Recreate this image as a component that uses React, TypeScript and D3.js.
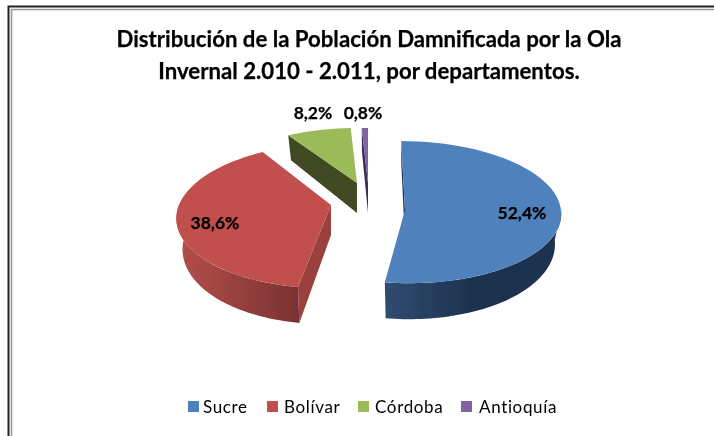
import React from "react";
import * as d3 from "d3";

const titleLines = ["Distribución de la Población Damnificada por la Ola", "Invernal 2.010 - 2.011, por departamentos."];
const categories = ["Sucre", "Bolívar", "Córdoba", "Antioquía"];
const values = [52.4, 38.6, 8.2, 0.8];
const labels = ["52,4%", "38,6%", "8,2%", "0,8%"];
const colors = ["#4f81bd", "#c0504d", "#9bbb59", "#8064a2"];
const wallFrom = ["#2f4c70", "#b44f4b", "#3f4a20", "#3c2f52"];
const wallTo = ["#1e3350", "#7a3130", "#3f4a20", "#3c2f52"];

// slice placement in the exploded pie: apex position and projection per slice
const apexes: [number, number][] = [[405, 210], [331, 205], [357, 183], [368, 183]];
const radiiX = [156, 152, 150, 150];
const radiiY = [71, 70.6, 66, 66];
const persp = [0.03, 0.15, 0.2, 0.2];
const shear = [0.055, -0.075, 0, 0];
const labelPos: [number, number][] = [[522, 219], [215, 229], [313, 119], [363, 119]];
const legendSwatchX = [188, 267, 358, 461];
const legendTextX = [203, 284, 375, 479];

export default function App() {
  const arcs = d3.pie<number>().sort(null)(values);
  const tick = Math.PI / 180;
  const project = (i: number, a: number, rho: number, down = 0): [number, number] => {
    const w = 1 + persp[i] * rho * Math.cos(a);
    const h = 30 * (1 - 0.2 * rho * Math.cos(a));
    const dy = -(radiiY[i] * rho * Math.cos(a)) / w;
    const dx = (radiiX[i] * rho * Math.sin(a)) / w + shear[i] * dy;
    return [
      apexes[i][0] + dx * (1 - 0.04 * down),
      apexes[i][1] + dy + down * h,
    ];
  };
  const line = d3.line();
  const arcPts = (i: number, a0: number, a1: number, down = 0) =>
    d3.range(0, 61).map((k) => project(i, a0 + ((a1 - a0) * k) / 60, 1, down));

  const order = [2, 3, 1, 0];
  return (
    <svg width={714} height={436} style={{ position: "absolute", left: 0, top: 0 }}>
      <defs>
        <filter id="soft"><feGaussianBlur stdDeviation="0.5" /></filter>
        {arcs.map((_, i) => (
          <linearGradient key={i} id={`wall${i}`} gradientUnits="userSpaceOnUse"
            x1={i === 0 ? 386 : 176} x2={i === 0 ? 470 : 300} y1={0} y2={0}>
            <stop offset="0" stopColor={wallFrom[i]} />
            <stop offset="1" stopColor={wallTo[i]} />
          </linearGradient>
        ))}
      </defs>
      <rect width={714} height={436} fill="#fff" />
      <g fill="none">
        <path d="M8.5 436V6.5H714" stroke="#222" strokeWidth={2} />
        <path d="M11.5 436V9.5H714" stroke="#999" strokeWidth={1.6} />
      </g>
      <g filter="url(#soft)">
        {order.map((i) => {
          const d = arcs[i];
          const a0 = d.startAngle, a1 = d.endAngle;
          const apex = project(i, 0, 0);
          const apexB = project(i, 0, 0, 1);
          // outer wall: part of the rim that faces the viewer
          const f0 = Math.max(a0, 90 * tick), f1 = Math.min(a1, 270 * tick);
          const outer = f1 > f0
            ? [...arcPts(i, f0, f1), ...arcPts(i, f0, f1, 1).reverse()] as [number, number][]
            : null;
          // cut walls that remain visible
          const cuts: [number, number][][] = [];
          if (i === 0) cuts.push([project(i, a0, 1), apex, apexB, project(i, a0, 1, 1)]);
          if (i === 1) cuts.push([apex, project(i, a0, 1), project(i, a0, 1, 1), apexB]);
          if (i >= 2) cuts.push([project(i, a0, 1), apex, apexB, project(i, a0, 1, 1)]);
          const top = [apex, ...arcPts(i, a0, a1)] as [number, number][];
          return (
            <g key={i}>
              {cuts.map((c, k) => (
                <path key={k} d={line(c) + "Z"} fill={i === 1 ? "#9a403e" : i === 0 ? "#1e3350" : wallTo[i]} />
              ))}
              {outer && <path d={line(outer) + "Z"} fill={`url(#wall${i})`} />}
              <path d={line(top) + "Z"} fill={colors[i]} />
            </g>
          );
        })}
        <g fontFamily="Lato, Carlito, sans-serif" fontWeight={700} fill="#000" stroke="#000" strokeWidth={0.25}>
          {labels.map((t, i) => (
            <text key={t} x={labelPos[i][0]} y={labelPos[i][1]} fontSize={17.5} textAnchor="middle">{t}</text>
          ))}
          {titleLines.map((t, i) => (
            <text key={t} x={369} y={47 + i * 32} fontSize={22.2} textAnchor="middle">{t}</text>
          ))}
        </g>
        <g fontFamily="Lato, Carlito, sans-serif" fontSize={17} fill="#000" letterSpacing={0.65}>
          {categories.map((c, i) => (
            <g key={c}>
              <rect x={legendSwatchX[i]} y={401} width={11} height={11} fill={colors[i]} />
              <text x={legendTextX[i]} y={413}>{c}</text>
            </g>
          ))}
        </g>
      </g>
    </svg>
  );
}
